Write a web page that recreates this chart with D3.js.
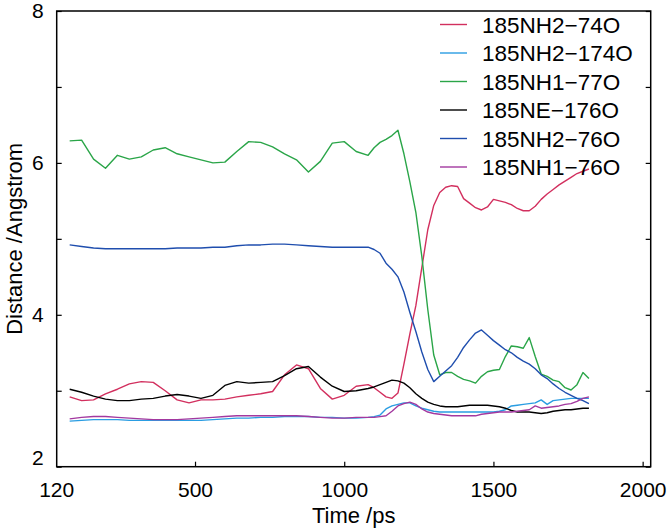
<!DOCTYPE html>
<html>
<head>
<meta charset="utf-8">
<script src="https://cdn.jsdelivr.net/npm/d3@7"></script>
<style>
  body { margin: 0; background: #fff; }
  svg { font-family: "Liberation Sans", Arial, sans-serif; }
</style>
</head>
<body>
<svg></svg>
<script>
let times = [80, 120, 160, 200, 240, 280, 320, 360, 400, 440, 480, 520, 560, 600, 640, 680, 720, 760, 800, 840, 880, 920, 960, 1000, 1040, 1080,
  1100, 1120, 1140, 1160, 1180, 1200, 1220, 1240, 1260, 1280, 1300, 1320, 1340, 1360, 1380, 1400, 1420, 1440, 1460, 1480, 1500,
  1520, 1540, 1560, 1580, 1600, 1620, 1640, 1660, 1680, 1700, 1720, 1740, 1760, 1780, 1800, 1820]

let nh2_74 = [2.92, 2.87, 2.88, 2.96, 3.02, 3.09, 3.12, 3.11, 3.00, 2.88, 2.84, 2.88, 2.88, 2.89, 2.92, 2.94, 2.96, 2.99, 3.21, 3.34, 3.29, 3.03, 2.89, 2.94, 3.06, 3.08,
  3.04, 2.98, 2.92, 2.90, 2.97, 3.35, 3.75, 4.12, 4.62, 5.12, 5.44, 5.61, 5.68, 5.70, 5.69, 5.53, 5.47, 5.41, 5.38, 5.42, 5.52,
  5.50, 5.48, 5.45, 5.40, 5.37, 5.37, 5.43, 5.52, 5.59, 5.65, 5.71, 5.76, 5.81, 5.86, 5.89, 5.92]

let nh2_174 = [2.60, 2.61, 2.62, 2.62, 2.62, 2.61, 2.61, 2.61, 2.61, 2.61, 2.61, 2.61, 2.62, 2.63, 2.64, 2.64, 2.65, 2.65, 2.66, 2.66, 2.66, 2.65, 2.65, 2.64, 2.64, 2.65,
  2.66, 2.68, 2.76, 2.80, 2.82, 2.84, 2.84, 2.80, 2.77, 2.75, 2.73, 2.72, 2.72, 2.72, 2.72, 2.72, 2.72, 2.72, 2.72, 2.72, 2.72,
  2.73, 2.75, 2.80, 2.81, 2.82, 2.83, 2.84, 2.88, 2.82, 2.87, 2.88, 2.89, 2.90, 2.90, 2.90, 2.90]

let nh1_77 = [6.29, 6.30, 6.05, 5.93, 6.10, 6.05, 6.08, 6.17, 6.20, 6.12, 6.08, 6.04, 6.00, 6.01, 6.15, 6.28, 6.27, 6.21, 6.12, 6.04, 5.88, 6.02, 6.26, 6.28, 6.15, 6.10,
  6.20, 6.27, 6.31, 6.36, 6.43, 6.12, 5.75, 5.35, 4.77, 4.07, 3.47, 3.21, 3.24, 3.24, 3.19, 3.15, 3.13, 3.10, 3.19, 3.25, 3.27,
  3.28, 3.45, 3.59, 3.58, 3.56, 3.70, 3.45, 3.22, 3.19, 3.14, 3.12, 3.04, 3.01, 3.08, 3.24, 3.16]

let ne_176 = [3.02, 2.98, 2.93, 2.89, 2.87, 2.87, 2.89, 2.90, 2.93, 2.95, 2.93, 2.90, 2.94, 3.07, 3.12, 3.10, 3.11, 3.12, 3.20, 3.29, 3.32, 3.18, 3.06, 2.99, 3.00, 3.03,
  3.05, 3.08, 3.11, 3.14, 3.13, 3.10, 3.04, 2.96, 2.90, 2.85, 2.82, 2.80, 2.79, 2.79, 2.79, 2.80, 2.81, 2.81, 2.81, 2.81, 2.80,
  2.79, 2.77, 2.74, 2.72, 2.72, 2.72, 2.71, 2.70, 2.71, 2.73, 2.74, 2.75, 2.75, 2.76, 2.77, 2.77]

let nh2_76 = [4.92, 4.90, 4.88, 4.87, 4.87, 4.87, 4.87, 4.87, 4.87, 4.88, 4.88, 4.88, 4.89, 4.89, 4.91, 4.92, 4.92, 4.93, 4.93, 4.92, 4.91, 4.90, 4.89, 4.89, 4.89, 4.89,
  4.86, 4.81, 4.68, 4.60, 4.50, 4.30, 4.03, 3.78, 3.51, 3.28, 3.12, 3.19, 3.26, 3.33, 3.44, 3.57, 3.67, 3.76, 3.80, 3.73, 3.66,
  3.60, 3.54, 3.50, 3.44, 3.39, 3.35, 3.29, 3.21, 3.16, 3.09, 3.03, 2.98, 2.94, 2.90, 2.87, 2.83]

let nh1_76 = [2.63, 2.65, 2.66, 2.66, 2.65, 2.64, 2.63, 2.62, 2.62, 2.62, 2.63, 2.64, 2.65, 2.66, 2.67, 2.67, 2.67, 2.67, 2.67, 2.67, 2.66, 2.65, 2.64, 2.64, 2.65, 2.65,
  2.65, 2.66, 2.67, 2.73, 2.80, 2.83, 2.85, 2.82, 2.76, 2.72, 2.70, 2.69, 2.68, 2.67, 2.67, 2.67, 2.67, 2.67, 2.69, 2.70, 2.71,
  2.72, 2.72, 2.72, 2.73, 2.74, 2.75, 2.80, 2.77, 2.78, 2.79, 2.80, 2.82, 2.83, 2.86, 2.90, 2.92]

let seriesNames = ['185NH2\u221274O', '185NH2\u2212174O', '185NH1\u221277O', '185NE\u2212176O', '185NH2\u221276O', '185NH1\u221276O']
let seriesValues = [nh2_74, nh2_174, nh1_77, ne_176, nh2_76, nh1_76]
let seriesColors = ['#d22f5e', '#2a9de2', '#2aa548', '#000000', '#1f4eae', '#a3389f']

let xTickValues = [500, 1000, 1500, 2000]
let yTickValues = [2, 3, 4, 5, 6, 7, 8]
let yLabelValues = [2, 4, 6, 8]

let width = 668
let height = 530
let padLeft = 56.7, padRight = 650.7, padTop = 11, padBottom = 466.7

let svg = d3.select('svg').attr('width', width).attr('height', height)

let xScale = d3.scaleLinear().domain([36.5, 2027]).range([padLeft, padRight])
let yScale = d3.scaleLinear().domain([2, 8]).range([padBottom, padTop])

// lines
let line = d3.line()
    .x((d, i) => xScale(times[i]))
    .y(d => yScale(d))

seriesValues.forEach((vals, k) => {
    svg.append('path')
        .datum(vals)
        .attr('d', line)
        .attr('fill', 'none')
        .attr('stroke', seriesColors[k])
        .attr('stroke-width', 1.4)
        .attr('stroke-linejoin', 'round')
})

// axes with inward ticks
let xAxis = d3.axisBottom(xScale).tickValues(xTickValues).tickSize(-5).tickPadding(15)
    .tickFormat(d3.format('d'))
let gx = svg.append('g')
    .attr('transform', 'translate(0,' + padBottom + ')')
    .call(xAxis)
gx.select('.domain').remove()
gx.selectAll('text').style('font-size', '21px').attr('fill', '#000')
gx.append('text')
    .attr('x', padLeft).attr('y', 15).attr('dy', '0.71em')
    .attr('text-anchor', 'middle').attr('fill', '#000')
    .style('font-size', '21px')
    .text('120')

let yAxis = d3.axisLeft(yScale).tickValues(yTickValues).tickSize(-5).tickPadding(13)
    .tickFormat(d => yLabelValues.includes(d) ? d : '')
let gy = svg.append('g')
    .attr('transform', 'translate(' + padLeft + ',0)')
    .call(yAxis)
gy.select('.domain').remove()
gy.selectAll('text').style('font-size', '21px').attr('fill', '#000')
gy.selectAll('.tick').filter(d => d === 2).select('text').attr('dy', '-0.1em')

let yAxisR = d3.axisRight(yScale).tickValues(yTickValues).tickSize(-5).tickFormat('')
let gyr = svg.append('g')
    .attr('transform', 'translate(' + padRight + ',0)')
    .call(yAxisR)
gyr.select('.domain').remove()

svg.selectAll('.tick line').attr('stroke', '#000').attr('stroke-width', 1.2)

// frame
svg.append('rect')
    .attr('x', padLeft).attr('y', padTop)
    .attr('width', padRight - padLeft).attr('height', padBottom - padTop)
    .attr('fill', 'none').attr('stroke', '#000').attr('stroke-width', 1.5)

// axis titles
svg.append('text')
    .attr('x', (padLeft + padRight) / 2).attr('y', 523)
    .attr('text-anchor', 'middle')
    .style('font-size', '22px')
    .text('Time /ps')

svg.append('text')
    .attr('transform', 'translate(22,' + (padTop + padBottom) / 2 + ') rotate(-90)')
    .attr('text-anchor', 'middle')
    .style('font-size', '22px')
    .text('Distance /Angstrom')

// legend
let legend = svg.append('g')
seriesNames.forEach((name, k) => {
    let ly = 24.5 + k * 28.5
    legend.append('line')
        .attr('x1', 440).attr('x2', 467)
        .attr('y1', ly).attr('y2', ly)
        .attr('stroke', seriesColors[k]).attr('stroke-width', 1.4)
    legend.append('text')
        .attr('x', 482).attr('y', ly + 8)
        .style('font-size', '22.5px')
        .text(name)
})
</script>
</body>
</html>
